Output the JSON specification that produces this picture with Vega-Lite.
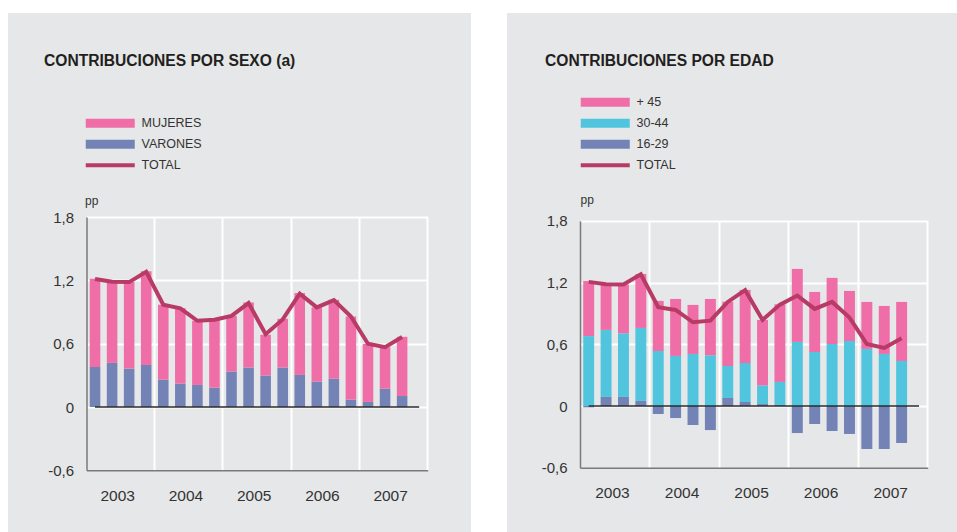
{
  "$schema": "https://vega.github.io/schema/vega-lite/v6.json",
  "background": "white",
  "padding": {"left": 8, "top": 13, "right": 0, "bottom": 0},
  "autosize": {"type": "pad"},
  "spacing": 36,
  "config": {
    "font": "Liberation Sans",
    "view": {"fill": "#E6E7E8", "stroke": null},
    "axis": {"labelFont": "Liberation Sans", "labelColor": "#333333", "titleFont": "Liberation Sans"},
    "legend": {"labelFont": "Liberation Sans"}
  },
  "datasets": {
    "sexo": [
      {"q": "2003-1", "serie": "VARONES", "v": 0.38}, {"q": "2003-1", "serie": "MUJERES", "v": 0.836},
      {"q": "2003-2", "serie": "VARONES", "v": 0.418}, {"q": "2003-2", "serie": "MUJERES", "v": 0.766},
      {"q": "2003-3", "serie": "VARONES", "v": 0.364}, {"q": "2003-3", "serie": "MUJERES", "v": 0.82},
      {"q": "2003-4", "serie": "VARONES", "v": 0.399}, {"q": "2003-4", "serie": "MUJERES", "v": 0.887},
      {"q": "2004-1", "serie": "VARONES", "v": 0.26}, {"q": "2004-1", "serie": "MUJERES", "v": 0.709},
      {"q": "2004-2", "serie": "VARONES", "v": 0.222}, {"q": "2004-2", "serie": "MUJERES", "v": 0.715},
      {"q": "2004-3", "serie": "VARONES", "v": 0.209}, {"q": "2004-3", "serie": "MUJERES", "v": 0.608},
      {"q": "2004-4", "serie": "VARONES", "v": 0.184}, {"q": "2004-4", "serie": "MUJERES", "v": 0.642},
      {"q": "2005-1", "serie": "VARONES", "v": 0.336}, {"q": "2005-1", "serie": "MUJERES", "v": 0.528},
      {"q": "2005-2", "serie": "VARONES", "v": 0.374}, {"q": "2005-2", "serie": "MUJERES", "v": 0.617},
      {"q": "2005-3", "serie": "VARONES", "v": 0.298}, {"q": "2005-3", "serie": "MUJERES", "v": 0.386},
      {"q": "2005-4", "serie": "VARONES", "v": 0.374}, {"q": "2005-4", "serie": "MUJERES", "v": 0.462},
      {"q": "2006-1", "serie": "VARONES", "v": 0.304}, {"q": "2006-1", "serie": "MUJERES", "v": 0.776},
      {"q": "2006-2", "serie": "VARONES", "v": 0.241}, {"q": "2006-2", "serie": "MUJERES", "v": 0.703},
      {"q": "2006-3", "serie": "VARONES", "v": 0.269}, {"q": "2006-3", "serie": "MUJERES", "v": 0.747},
      {"q": "2006-4", "serie": "VARONES", "v": 0.07}, {"q": "2006-4", "serie": "MUJERES", "v": 0.788},
      {"q": "2007-1", "serie": "VARONES", "v": 0.048}, {"q": "2007-1", "serie": "MUJERES", "v": 0.55},
      {"q": "2007-2", "serie": "VARONES", "v": 0.174}, {"q": "2007-2", "serie": "MUJERES", "v": 0.393},
      {"q": "2007-3", "serie": "VARONES", "v": 0.104}, {"q": "2007-3", "serie": "MUJERES", "v": 0.561}
    ],
    "tots": [
      {"q": "2003-1", "v": 1.213}, {"q": "2003-2", "v": 1.187}, {"q": "2003-3", "v": 1.184}, {"q": "2003-4", "v": 1.282},
      {"q": "2004-1", "v": 0.969}, {"q": "2004-2", "v": 0.935}, {"q": "2004-3", "v": 0.817}, {"q": "2004-4", "v": 0.828},
      {"q": "2005-1", "v": 0.864}, {"q": "2005-2", "v": 0.985}, {"q": "2005-3", "v": 0.69}, {"q": "2005-4", "v": 0.83},
      {"q": "2006-1", "v": 1.075}, {"q": "2006-2", "v": 0.944}, {"q": "2006-3", "v": 1.013}, {"q": "2006-4", "v": 0.858},
      {"q": "2007-1", "v": 0.6}, {"q": "2007-2", "v": 0.567}, {"q": "2007-3", "v": 0.664}
    ],
    "edad": [
      {"q": "2003-1", "serie": "16-29", "v": -0.013}, {"q": "2003-1", "serie": "30-44", "v": 0.68}, {"q": "2003-1", "serie": "+ 45", "v": 0.535},
      {"q": "2003-2", "serie": "16-29", "v": 0.088}, {"q": "2003-2", "serie": "30-44", "v": 0.652}, {"q": "2003-2", "serie": "+ 45", "v": 0.447},
      {"q": "2003-3", "serie": "16-29", "v": 0.088}, {"q": "2003-3", "serie": "30-44", "v": 0.619}, {"q": "2003-3", "serie": "+ 45", "v": 0.474},
      {"q": "2003-4", "serie": "16-29", "v": 0.049}, {"q": "2003-4", "serie": "30-44", "v": 0.71}, {"q": "2003-4", "serie": "+ 45", "v": 0.525},
      {"q": "2004-1", "serie": "16-29", "v": -0.078}, {"q": "2004-1", "serie": "30-44", "v": 0.535}, {"q": "2004-1", "serie": "+ 45", "v": 0.487},
      {"q": "2004-2", "serie": "16-29", "v": -0.117}, {"q": "2004-2", "serie": "30-44", "v": 0.487}, {"q": "2004-2", "serie": "+ 45", "v": 0.554},
      {"q": "2004-3", "serie": "16-29", "v": -0.185}, {"q": "2004-3", "serie": "30-44", "v": 0.506}, {"q": "2004-3", "serie": "+ 45", "v": 0.477},
      {"q": "2004-4", "serie": "16-29", "v": -0.234}, {"q": "2004-4", "serie": "30-44", "v": 0.493}, {"q": "2004-4", "serie": "+ 45", "v": 0.548},
      {"q": "2005-1", "serie": "16-29", "v": 0.078}, {"q": "2005-1", "serie": "30-44", "v": 0.311}, {"q": "2005-1", "serie": "+ 45", "v": 0.626},
      {"q": "2005-2", "serie": "16-29", "v": 0.039}, {"q": "2005-2", "serie": "30-44", "v": 0.379}, {"q": "2005-2", "serie": "+ 45", "v": 0.711},
      {"q": "2005-3", "serie": "16-29", "v": 0.019}, {"q": "2005-3", "serie": "30-44", "v": 0.182}, {"q": "2005-3", "serie": "+ 45", "v": 0.636},
      {"q": "2005-4", "serie": "16-29", "v": 0.01}, {"q": "2005-4", "serie": "30-44", "v": 0.224}, {"q": "2005-4", "serie": "+ 45", "v": 0.755},
      {"q": "2006-1", "serie": "16-29", "v": -0.263}, {"q": "2006-1", "serie": "30-44", "v": 0.623}, {"q": "2006-1", "serie": "+ 45", "v": 0.71},
      {"q": "2006-2", "serie": "16-29", "v": -0.175}, {"q": "2006-2", "serie": "30-44", "v": 0.525}, {"q": "2006-2", "serie": "+ 45", "v": 0.584},
      {"q": "2006-3", "serie": "16-29", "v": -0.243}, {"q": "2006-3", "serie": "30-44", "v": 0.603}, {"q": "2006-3", "serie": "+ 45", "v": 0.643},
      {"q": "2006-4", "serie": "16-29", "v": -0.272}, {"q": "2006-4", "serie": "30-44", "v": 0.632}, {"q": "2006-4", "serie": "+ 45", "v": 0.487},
      {"q": "2007-1", "serie": "16-29", "v": -0.418}, {"q": "2007-1", "serie": "30-44", "v": 0.555}, {"q": "2007-1", "serie": "+ 45", "v": 0.457},
      {"q": "2007-2", "serie": "16-29", "v": -0.418}, {"q": "2007-2", "serie": "30-44", "v": 0.506}, {"q": "2007-2", "serie": "+ 45", "v": 0.467},
      {"q": "2007-3", "serie": "16-29", "v": -0.36}, {"q": "2007-3", "serie": "30-44", "v": 0.438}, {"q": "2007-3", "serie": "+ 45", "v": 0.574}
    ],
    "tote": [
      {"q": "2003-1", "v": 1.207}, {"q": "2003-2", "v": 1.184}, {"q": "2003-3", "v": 1.181}, {"q": "2003-4", "v": 1.281},
      {"q": "2004-1", "v": 0.96}, {"q": "2004-2", "v": 0.934}, {"q": "2004-3", "v": 0.814}, {"q": "2004-4", "v": 0.83},
      {"q": "2005-1", "v": 1.012}, {"q": "2005-2", "v": 1.126}, {"q": "2005-3", "v": 0.837}, {"q": "2005-4", "v": 0.986},
      {"q": "2006-1", "v": 1.074}, {"q": "2006-2", "v": 0.944}, {"q": "2006-3", "v": 1.012}, {"q": "2006-4", "v": 0.86},
      {"q": "2007-1", "v": 0.603}, {"q": "2007-2", "v": 0.564}, {"q": "2007-3", "v": 0.658}
    ]
  },
  "hconcat": [
    {
      "width": 463,
      "height": 519,
      "title": {"text": "CONTRIBUCIONES POR SEXO (a)", "anchor": "start", "frame": "group", "orient": "top", "offset": -68.5, "dx": 36, "baseline": "alphabetic", "fontSize": 15.6, "fontWeight": "bold", "color": "#231F20", "font": "Liberation Sans"},
      "resolve": {"axis": {"x": "independent"}},
      "layer": [
        {
          "data": {"name": "sexo"},
          "mark": {"type": "bar", "width": {"band": 0.62}},
          "encoding": {
            "x": {"field": "q", "type": "ordinal",
              "scale": {"domain": ["2003-1","2003-2","2003-3","2003-4","2004-1","2004-2","2004-3","2004-4","2005-1","2005-2","2005-3","2005-4","2006-1","2006-2","2006-3","2006-4","2007-1","2007-2","2007-3","2007-4"], "range": [78.5, 419.7], "paddingInner": 0, "paddingOuter": 0},
              "axis": {"orient": "bottom", "offset": -61.7, "values": ["2003-3","2004-3","2005-3","2006-3","2007-3"], "labelExpr": "slice(datum.value, 0, 4)", "labelAngle": 0, "labelOffset": -11.5, "labelFontSize": 15.5, "labelColor": "#333333", "labelPadding": 18, "ticks": false, "grid": false, "domainColor": "#7A7A7A", "domainWidth": 1.5, "title": null}},
            "y": {"field": "v", "type": "quantitative", "stack": "zero",
              "scale": {"domain": [-0.6, 1.8], "range": [457.3, 204.1], "nice": false, "zero": false},
              "axis": {"offset": -78.5, "values": [-0.6, 0, 0.6, 1.2, 1.8], "labelExpr": "datum.value == 0 ? '0' : replace(replace(format(datum.value, '.1f'), '.', ','), '\u2212', '-')", "labelFontSize": 15, "labelColor": "#333333", "labelPadding": 13, "ticks": false, "grid": true, "gridColor": "white", "gridWidth": 2, "gridOpacity": {"condition": {"test": "datum.value < -0.5", "value": 0}, "value": 1}, "domainColor": "#7A7A7A", "domainWidth": 1.5, "title": "pp", "titleAngle": 0, "titleX": -2, "titleY": 191, "titleAlign": "left", "titleBaseline": "alphabetic", "titleFontSize": 12, "titleFontWeight": "normal", "titleColor": "#333333"}},
            "color": {"field": "serie", "type": "nominal",
              "scale": {"domain": ["MUJERES", "VARONES", "TOTAL"], "range": ["#EF6EA8", "#7383B5", "#B83B66"]},
              "legend": {"orient": "none", "legendX": 96, "legendY": 104, "title": null, "padding": 0, "symbolSize": 81, "symbolStrokeWidth": 0, "labelOffset": 25, "rowPadding": 8, "labelFontSize": 12.5, "labelColor": "#333333", "labelFont": "Liberation Sans",
                "encode": {"symbols": {"update": {
                  "shape": {"signal": "datum.value == 'TOTAL' ? 'M-5.444,-0.444L5.444,-0.444L5.444,0.444L-5.444,0.444Z' : 'M-5.444,-1L5.444,-1L5.444,1L-5.444,1Z'"},
                  "fill": {"signal": "datum.value == 'MUJERES' ? '#EF6EA8' : datum.value == 'VARONES' ? '#7383B5' : '#B83B66'"},
                  "stroke": {"value": "transparent"},
                  "opacity": {"value": 1}}}}}},
            "order": {"field": "serie", "sort": "descending"}
          }
        },
        {
          "data": {"values": [{}]},
          "mark": {"type": "rule", "color": "#2B2B2B", "strokeWidth": 1.5},
          "encoding": {
            "x": {"datum": "2003-1", "type": "ordinal", "axis": null},
            "x2": {"datum": "2007-4"},
            "y": {"datum": 0, "type": "quantitative"}
          }
        },
        {
          "data": {"name": "tots"},
          "mark": {"type": "line", "strokeWidth": 4, "strokeCap": "butt", "strokeJoin": "miter"},
          "encoding": {
            "x": {"field": "q", "type": "ordinal",
              "axis": {"orient": "top", "values": ["2003-4","2004-4","2005-4","2006-4","2007-4"], "bandPosition": 1, "grid": true, "gridColor": "white", "gridWidth": 2, "labels": false, "ticks": false, "domain": false, "title": null}},
            "y": {"field": "v", "type": "quantitative"},
            "color": {"datum": "TOTAL"}
          }
        }
      ]
    },
    {
      "width": 450,
      "height": 519,
      "title": {"text": "CONTRIBUCIONES POR EDAD", "anchor": "start", "frame": "group", "orient": "top", "offset": -69, "dx": 38, "baseline": "alphabetic", "fontSize": 15.6, "fontWeight": "bold", "color": "#231F20", "font": "Liberation Sans"},
      "resolve": {"axis": {"x": "independent"}},
      "layer": [
        {
          "data": {"name": "edad"},
          "transform": [{"calculate": "indexof(['16-29', '30-44', '+ 45'], datum.serie)", "as": "orden"}],
          "mark": {"type": "bar", "width": {"band": 0.63}},
          "encoding": {
            "x": {"field": "q", "type": "ordinal",
              "scale": {"domain": ["2003-1","2003-2","2003-3","2003-4","2004-1","2004-2","2004-3","2004-4","2005-1","2005-2","2005-3","2005-4","2006-1","2006-2","2006-3","2006-4","2007-1","2007-2","2007-3","2007-4"], "range": [73, 420.7], "paddingInner": 0, "paddingOuter": 0},
              "axis": {"orient": "bottom", "offset": -64.3, "values": ["2003-3","2004-3","2005-3","2006-3","2007-3"], "labelExpr": "slice(datum.value, 0, 4)", "labelAngle": 0, "labelOffset": -11, "labelFontSize": 15.5, "labelColor": "#333333", "labelPadding": 18, "ticks": false, "grid": false, "domainColor": "#7A7A7A", "domainWidth": 1.5, "title": null}},
            "y": {"field": "v", "type": "quantitative", "stack": "zero",
              "scale": {"domain": [-0.6, 1.8], "range": [454.7, 207.9], "nice": false, "zero": false},
              "axis": {"offset": -73, "values": [-0.6, 0, 0.6, 1.2, 1.8], "labelExpr": "datum.value == 0 ? '0' : replace(replace(format(datum.value, '.1f'), '.', ','), '\u2212', '-')", "labelFontSize": 15, "labelColor": "#333333", "labelPadding": 13, "ticks": false, "grid": true, "gridColor": "white", "gridWidth": 2, "gridOpacity": {"condition": {"test": "datum.value < -0.5", "value": 0}, "value": 1}, "domainColor": "#7A7A7A", "domainWidth": 1.5, "title": "pp", "titleAngle": 0, "titleX": 0, "titleY": 190, "titleAlign": "left", "titleBaseline": "alphabetic", "titleFontSize": 12, "titleFontWeight": "normal", "titleColor": "#333333"}},
            "color": {"field": "serie", "type": "nominal",
              "scale": {"domain": ["+ 45", "30-44", "16-29", "TOTAL"], "range": ["#EF6EA8", "#52C5DE", "#7383B5", "#B83B66"]},
              "legend": {"orient": "none", "legendX": 92, "legendY": 83, "title": null, "padding": 0, "symbolSize": 81, "symbolStrokeWidth": 0, "labelOffset": 25, "rowPadding": 8, "labelFontSize": 12.5, "labelColor": "#333333", "labelFont": "Liberation Sans",
                "encode": {"symbols": {"update": {
                  "shape": {"signal": "datum.value == 'TOTAL' ? 'M-5.444,-0.444L5.444,-0.444L5.444,0.444L-5.444,0.444Z' : 'M-5.444,-1L5.444,-1L5.444,1L-5.444,1Z'"},
                  "fill": {"signal": "datum.value == '+ 45' ? '#EF6EA8' : datum.value == '30-44' ? '#52C5DE' : datum.value == '16-29' ? '#7383B5' : '#B83B66'"},
                  "stroke": {"value": "transparent"},
                  "opacity": {"value": 1}}}}}},
            "order": {"field": "orden", "type": "quantitative"}
          }
        },
        {
          "data": {"values": [{}]},
          "mark": {"type": "rule", "color": "#2B2B2B", "strokeWidth": 1.5},
          "encoding": {
            "x": {"datum": "2003-1", "type": "ordinal", "axis": null},
            "x2": {"datum": "2007-4"},
            "y": {"datum": 0, "type": "quantitative"}
          }
        },
        {
          "data": {"name": "tote"},
          "mark": {"type": "line", "strokeWidth": 4, "strokeCap": "butt", "strokeJoin": "miter"},
          "encoding": {
            "x": {"field": "q", "type": "ordinal",
              "axis": {"orient": "top", "values": ["2003-4","2004-4","2005-4","2006-4","2007-4"], "bandPosition": 1, "grid": true, "gridColor": "white", "gridWidth": 2, "labels": false, "ticks": false, "domain": false, "title": null}},
            "y": {"field": "v", "type": "quantitative"},
            "color": {"datum": "TOTAL"}
          }
        }
      ]
    }
  ],
  "resolve": {"scale": {"x": "independent", "y": "independent", "color": "independent"}, "legend": {"color": "independent"}}
}
